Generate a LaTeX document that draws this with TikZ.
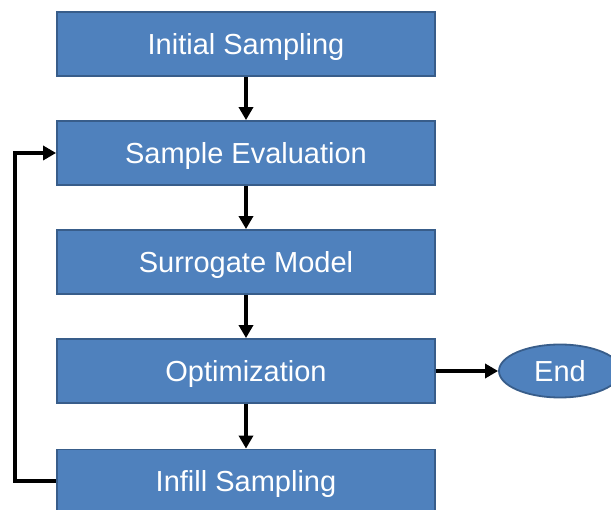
\documentclass[tikz,border=0pt]{standalone}
\usepackage{fontspec}
\setmainfont{Liberation Sans}
\usetikzlibrary{arrows.meta,shapes.geometric}
\definecolor{boxfill}{HTML}{4F81BD}
\definecolor{boxline}{HTML}{385D8A}
\tikzset{
  stage/.style={draw=boxline, line width=1.8pt, fill=boxfill, minimum width=378pt,
    minimum height=64pt, inner sep=0pt, text=white, text height=21pt, text depth=0pt,
    font=\fontsize{29}{32}\selectfont},
  terminal/.style={ellipse, draw=boxline, line width=1.8pt, fill=boxfill, minimum width=122pt,
    minimum height=53pt, inner sep=0pt, text=white, text height=21pt, text depth=0pt,
    font=\fontsize{29}{32}\selectfont},
  flow/.style={line width=3.6pt, -{Triangle[length=13pt,width=14pt]}}
}
\begin{document}
\begin{tikzpicture}[x=1pt,y=-1pt]
  \useasboundingbox (0,0) rectangle (611,510);
  \clip (0,0) rectangle (611,510);
  \node[stage] (init) at (246,44) {Initial Sampling};
  \node[stage] (eval) at (246,153) {Sample Evaluation};
  \node[stage] (surr) at (246,262) {Surrogate Model};
  \node[stage] (opt) at (246,371) {Optimization};
  \node[stage] (infill) at (246,481.5) {Infill Sampling};
  \node[terminal] (end) at (560,371) {End};
  \coordinate (lb) at (15,481);
  \coordinate (lt) at (15,153);
  \draw[flow] (init) -- (eval);
  \draw[flow] (eval) -- (surr);
  \draw[flow] (surr) -- (opt);
  \draw[flow] (opt) -- (infill);
  \draw[flow] (opt) -- (end);
  \draw[flow, line join=miter] (infill.west |- lb) -- (lb) -- (lt) -- (eval.west);
\end{tikzpicture}
\end{document}
